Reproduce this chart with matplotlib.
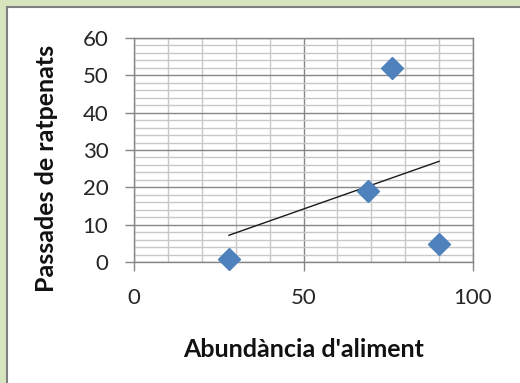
import matplotlib
matplotlib.use("Agg")
import matplotlib.pyplot as plt
from matplotlib.patches import Rectangle
from matplotlib.ticker import MultipleLocator
import numpy as np

# Data
abundancia = [28, 69, 76, 90]
passades = [1, 19, 52, 5]
x_ticks = [0, 50, 100]
y_ticks = [0, 10, 20, 30, 40, 50, 60]
x_label = "Abundància d'aliment"
y_label = "Passades de ratpenats"

plt.rcParams['font.family'] = ['Lato', 'DejaVu Sans']

W, H = 520, 383
fig = plt.figure(figsize=(W / 100, H / 100), dpi=100)
fig.patch.set_facecolor('#D7E4BD')
fig.add_artist(Rectangle((7 / W, -0.1), 1.2, 1 - 7 / H + 0.1, transform=fig.transFigure,
                         facecolor='white', edgecolor='#7F7F7F', linewidth=1.5, zorder=0))

ax = fig.add_axes([134 / W, 1 - 262.3 / H, (473 - 134) / W, (262.3 - 37.7) / H])
ax.set_facecolor('white')
ax.set_xlim(0, 100)
ax.set_ylim(0, 60)
ax.set_xticks(x_ticks)
ax.set_yticks(y_ticks)
ax.xaxis.set_minor_locator(MultipleLocator(10))
ax.yaxis.set_minor_locator(MultipleLocator(2))
ax.grid(which='major', color='#868686', linewidth=1.0, zorder=1)
ax.grid(which='minor', color='#C8C8C8', linewidth=1.0, zorder=1)
ax.set_axisbelow(True)
for s in ax.spines.values():
    s.set_color('#868686')
    s.set_linewidth(1.0)
ax.tick_params(which='major', direction='out', length=6.5, width=1, color='#868686',
               labelsize=16, labelcolor='#262626')
ax.tick_params(axis='x', which='major', pad=12)
ax.tick_params(axis='y', which='major', pad=12)
ax.tick_params(which='minor', length=0)

ax.plot(abundancia, passades, linestyle='none', marker='D', markersize=11,
        color='#4F81BD', zorder=3, clip_on=False)

# linear trendline
coef = np.polyfit(abundancia, passades, 1)
xs = np.array([min(abundancia), max(abundancia)])
ax.plot(xs, np.polyval(coef, xs), color='#1a1a1a', linewidth=1.0, zorder=2)

ax.set_xlabel(x_label, fontsize=18, fontweight='bold', color='#111111')
ax.set_ylabel(y_label, fontsize=18, fontweight='bold', color='#111111')
ax.xaxis.set_label_coords(0.5 * (183 + 424 - 2 * 134) / 339, (262.3 - 338) / 224.6)
ax.yaxis.set_label_coords((58 - 134) / 339, (262.3 - 168) / 224.6)

fig.savefig('out.png', dpi=100, facecolor=fig.get_facecolor())
